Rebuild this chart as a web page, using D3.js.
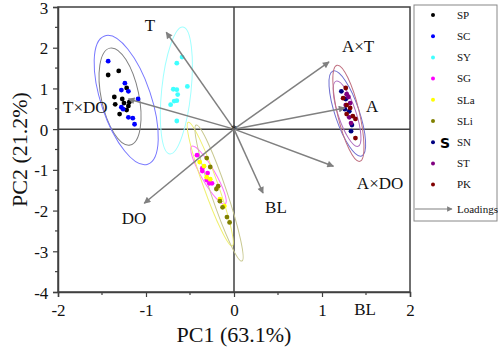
<!DOCTYPE html>
<html><head><meta charset="utf-8">
<script src="https://cdn.jsdelivr.net/npm/d3@7"></script>
<style>body{margin:0;background:#fff}</style>
</head><body>
<svg id="c" width="498" height="348"></svg>
<script>
// ---------- DATA ----------
const groups = ["SP","SC","SY","SG","SLa","SLi","SN","ST","PK"];
const groupColors = ["#000000","#0000ff","#40ffff","#ff00ff","#ffff00","#808000","#000080","#800080","#800000"];
const ellipseColors = ["#808080","#7878ff","#a0ffff","#ff70ff","#f0f070","#c8c890","#7070d0","#b070c0","#c07080"];

const pcX = {
  SP: [-1.43,-1.31,-1.22,-1.36,-1.27,-1.25,-1.35,-1.20,-1.22,-1.30,-1.19],
  SC: [-1.43,-1.24,-1.28,-1.20,-1.09,-1.28,-1.26,-1.20,-1.15,-1.13],
  SY: [-0.59,-0.65,-0.53,-0.69,-0.65,-0.64,-0.68,-0.65,-0.72,-0.65],
  SG: [-0.42,-0.36,-0.36,-0.30,-0.28,-0.25,-0.31],
  SLa:[-0.39,-0.34,-0.31,-0.27,-0.16,-0.11],
  SLi:[-0.31,-0.27,-0.18,-0.20,-0.16,-0.13,-0.08,-0.05],
  SN: [1.22,1.27,1.26,1.31,1.34,1.33],
  ST: [1.28,1.32,1.27,1.31,1.33,1.30],
  PK: [1.27,1.24,1.32,1.28,1.28,1.35,1.38,1.38]
};
const pcY = {
  SP: [1.33,1.43,1.01,0.79,0.74,0.64,0.61,0.57,0.47,0.37,0.66],
  SC: [1.67,1.13,0.96,0.93,0.74,0.54,0.49,0.29,0.27,0.12],
  SY: [1.77,1.62,1.05,0.98,0.97,0.85,0.69,0.70,0.60,0.20],
  SG: [-0.64,-0.96,-1.03,-1.08,-1.33,-1.33,-1.25],
  SLa:[-0.81,-0.91,-1.18,-1.23,-1.72,-1.89],
  SLi:[-0.71,-0.93,-1.40,-1.47,-1.77,-1.92,-2.16,-2.29],
  SN: [0.93,0.74,0.49,0.44,0.10,-0.05],
  ST: [0.86,0.64,0.59,0.29,0.15,0.79],
  PK: [1.01,0.76,0.52,0.59,0.37,0.32,0.25,-0.22]
};

// ellipse major-axis end points (PC1, PC2) and minor/major ratio
const ellipseTopX    = [-1.41,-1.47,-0.58,-0.48,-0.52,-0.43,1.125,1.16,1.17];
const ellipseTopY    = [ 1.99, 2.29, 2.51,-0.42, 0.17, 0.10,1.43,1.18,1.57];
const ellipseBottomX = [-1.18,-0.98,-0.73,-0.10,-0.02, 0.09,1.45,1.41,1.43];
const ellipseBottomY = [-0.39,-0.86,-0.61,-1.84,-2.87,-3.24,-0.66,-0.42,-0.79];
const ellipseRatio   = [0.38,0.37,0.23,0.21,0.11,0.11,0.27,0.26,0.22];

const loadings = ["T","T×DO","A×T","A","A×DO","BL","DO"];
const loadX = [-0.77,-1.20,1.08,1.26,1.13,0.33,-1.02];
const loadY = [ 2.38, 0.74,1.65,0.52,-0.91,-1.57,-1.82];
const loadLabelX = [-0.955,-1.69,1.41,1.57,1.66,0.477,-1.136];
const loadLabelY = [ 2.555, 0.54,2.04,0.565,-1.33,-1.92,-2.19];

const xTicks = [-2,-1,0,1,2];
const yTicks = [-4,-3,-2,-1,0,1,2,3];
const xLabel = "PC1 (63.1%)";
const yLabel = "PC2 (21.2%)";

// ---------- DRAW ----------
const svg = d3.select("#c");
const serif = "'Liberation Serif','Times New Roman',serif";
const x = d3.scaleLinear().domain([-2,2]).range([58,410]);
const y = d3.scaleLinear().domain([-4,3]).range([292,7]);
const axisCol = "#404040";

// arrow marker
svg.append("defs").append("marker").attr("id","ah")
  .attr("viewBox","0 0 10 10").attr("refX",9).attr("refY",5)
  .attr("markerWidth",5.5).attr("markerHeight",4.5).attr("orient","auto")
  .attr("markerUnits","strokeWidth")
  .append("path").attr("d","M0,0 L10,5 L0,10 Z").attr("fill","#808080");

// frame
svg.append("rect").attr("x",x(-2)).attr("y",y(3)).attr("width",x(2)-x(-2)).attr("height",y(-4)-y(3))
  .attr("fill","none").attr("stroke",axisCol).attr("stroke-width",1.5);

// axes
const xAxis = d3.axisBottom(x).tickValues(xTicks).tickSize(5).tickFormat(d=>d);
const gx = svg.append("g").attr("transform",`translate(0,${y(-4)})`).call(xAxis);
const yAxis = d3.axisLeft(y).tickValues(yTicks).tickSize(5).tickFormat(d=>d);
const gy = svg.append("g").attr("transform",`translate(${x(-2)},0)`).call(yAxis);
[gx,gy].forEach(g=>{
  g.select(".domain").attr("stroke",axisCol).attr("stroke-width",1.5);
  g.selectAll(".tick line").attr("stroke",axisCol).attr("stroke-width",1.2);
  g.selectAll(".tick text").attr("font-family",serif).attr("font-size",17).attr("fill","#111");
});
gx.selectAll(".tick text").attr("dy","0.95em");
gy.selectAll(".tick text").attr("dx","-0.1em").attr("dy","0.36em");
// minor ticks
const xMinor = d3.range(-1.5,2,1), yMinor = d3.range(-3.5,3,1);
svg.append("g").selectAll("line").data(xMinor).join("line")
  .attr("x1",d=>x(d)).attr("x2",d=>x(d)).attr("y1",y(-4)).attr("y2",y(-4)+3)
  .attr("stroke",axisCol).attr("stroke-width",1.2);
svg.append("g").selectAll("line").data(yMinor).join("line")
  .attr("y1",d=>y(d)).attr("y2",d=>y(d)).attr("x1",x(-2)).attr("x2",x(-2)-3)
  .attr("stroke",axisCol).attr("stroke-width",1.2);

// zero lines
svg.append("line").attr("x1",x(-2)).attr("x2",x(2)).attr("y1",y(0)).attr("y2",y(0))
  .attr("stroke",axisCol).attr("stroke-width",1.5);
svg.append("line").attr("x1",x(0)).attr("x2",x(0)).attr("y1",y(3)).attr("y2",y(-4))
  .attr("stroke",axisCol).attr("stroke-width",1.5);

// ellipses
const ellG = svg.append("g");
groups.forEach((g,i)=>{
  const p1=[x(ellipseTopX[i]),y(ellipseTopY[i])], p2=[x(ellipseBottomX[i]),y(ellipseBottomY[i])];
  const cx=(p1[0]+p2[0])/2, cy=(p1[1]+p2[1])/2;
  const dx=p1[0]-cx, dy=p1[1]-cy, a=Math.hypot(dx,dy);
  const ang=Math.atan2(dy,dx)*180/Math.PI;
  ellG.append("ellipse").attr("cx",0).attr("cy",0).attr("rx",a).attr("ry",a*ellipseRatio[i])
    .attr("transform",`translate(${cx},${cy}) rotate(${ang})`)
    .attr("fill","none").attr("stroke",ellipseColors[i]).attr("stroke-width",1);
});

// points
groups.forEach((g,i)=>{
  svg.append("g").selectAll("circle").data(pcX[g].map((v,j)=>[v,pcY[g][j]])).join("circle")
    .attr("cx",d=>x(d[0])).attr("cy",d=>y(d[1])).attr("r",2.4).attr("fill",groupColors[i]);
});

// loadings
loadings.forEach((l,i)=>{
  svg.append("line").attr("x1",x(0)).attr("y1",y(0)).attr("x2",x(loadX[i])).attr("y2",y(loadY[i]))
    .attr("stroke","#808080").attr("stroke-width",1.5).attr("marker-end","url(#ah)");
  svg.append("text").attr("x",x(loadLabelX[i])).attr("y",y(loadLabelY[i])).attr("dy","0.35em")
    .attr("text-anchor","middle").attr("font-family",serif).attr("font-size",17).attr("fill","#111").text(l);
});
// origin marker
svg.append("text").attr("x",x(0)).attr("y",y(0)).attr("dy","0.35em").attr("text-anchor","middle")
  .attr("font-family",serif).attr("font-size",12).attr("fill","#222").text("*");

// stray BL label under axis
svg.append("text").attr("x",x(1.5)-1).attr("y",y(-4)+20).attr("text-anchor","middle")
  .attr("font-family",serif).attr("font-size",17).attr("fill","#111").attr("dy","0.15em").text("BL");

// axis titles
svg.append("text").attr("x",x(0)).attr("y",342).attr("text-anchor","middle")
  .attr("font-family",serif).attr("font-size",22).attr("fill","#111").text(xLabel);
svg.append("text").attr("transform",`translate(27,${(y(3)+y(-4))/2}) rotate(-90)`).attr("text-anchor","middle")
  .attr("font-family",serif).attr("font-size",22).attr("fill","#111").text(yLabel);

// legend
const lg = svg.append("g");
lg.append("rect").attr("x",414).attr("y",5).attr("width",83).attr("height",216)
  .attr("fill","#fff").attr("stroke","#888").attr("stroke-width",1);
groups.forEach((g,i)=>{
  const yy = 15 + i*21.2;
  lg.append("circle").attr("cx",433).attr("cy",yy).attr("r",2).attr("fill",groupColors[i]);
  lg.append("text").attr("x",457).attr("y",yy).attr("dy","0.35em").attr("font-family",serif)
    .attr("font-size",11).attr("fill","#111").text(g);
});
lg.append("text").attr("x",445).attr("y",143).attr("dy","0.35em").attr("text-anchor","middle")
  .attr("font-family","'DejaVu Sans',sans-serif").attr("font-weight","bold").attr("font-size",14).attr("fill","#000").text("S");
lg.append("line").attr("x1",415).attr("x2",452).attr("y1",209).attr("y2",209)
  .attr("stroke","#808080").attr("stroke-width",1.2).attr("marker-end","url(#ah)");
lg.append("text").attr("x",457).attr("y",209).attr("dy","0.35em").attr("font-family",serif)
  .attr("font-size",11).attr("fill","#111").text("Loadings");
</script>
</body></html>
